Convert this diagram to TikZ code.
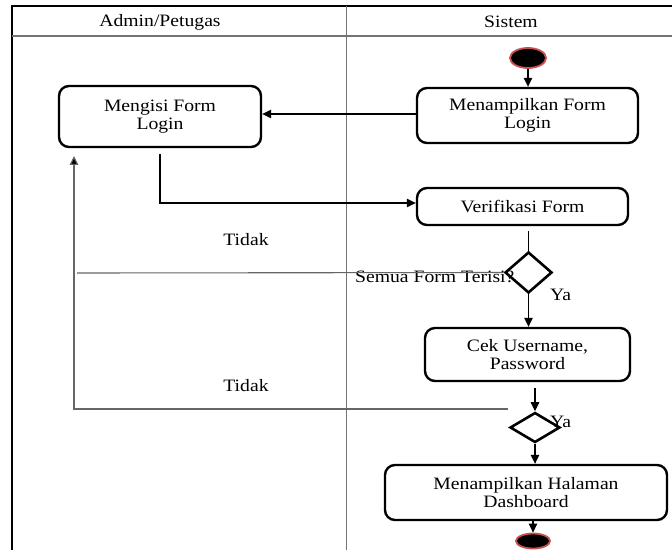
\documentclass[tikz,border=0pt]{standalone}
\usepackage{fontspec}
\setmainfont{Liberation Serif}[FakeStretch=1.13]
\usetikzlibrary{arrows.meta,shapes.geometric,calc}
\definecolor{termred}{RGB}{200,80,80}
\begin{document}
\begin{tikzpicture}[x=1bp,y=-1bp,
  every node/.style={font=\fontsize{17.4bp}{18.5bp}\selectfont},
  act/.style={draw,line width=2.4bp,rounded corners=10bp,align=center,inner sep=0pt},
  dec/.style={draw,diamond,line width=2.6bp,inner sep=0pt},
  term/.style={ellipse,fill=black,draw=termred,line width=1.8bp,inner sep=0pt},
  arr/.style={line width=1.1bp,-{Triangle[length=9bp,width=8.5bp]}},
  ln/.style={line width=1.1bp},
  gln/.style={line width=1.1bp,draw=black!60},
  garr/.style={gln,-{Triangle[length=9bp,width=8.5bp,fill=black]}},
  lbl/.style={inner sep=0pt}]
\useasboundingbox (0,0) rectangle (672,550);
\fill[white] (0,0) rectangle (672,550);
% frame
\draw[line width=2.6bp] (12,550) -- (12,6) -- (672,6);
\draw[line width=1.5bp,black!55] (12,36) -- (672,36);
\draw[line width=1bp,black!55] (346,6) -- (346,550);
\node[lbl] (h1) at (160,22) {Admin/Petugas};
\node[lbl] (h2) at (511,22) {Sistem};
% nodes
\node[term,minimum width=36bp,minimum height=20bp] (start) at (528,58) {};
\node[act,minimum width=221bp,minimum height=55bp] (tampil) at (527.5,115.5) {Menampilkan Form\\Login};
\node[act,minimum width=202bp,minimum height=61bp] (mengisi) at (160,116.5) {Mengisi Form\\Login};
\node[act,minimum width=211bp,minimum height=37bp] (verif) at (522.5,206.5) {Verifikasi Form};
\node[dec,minimum width=47bp,minimum height=41bp] (d1) at (528.5,272.5) {};
\node[act,minimum width=205bp,minimum height=53bp] (cek) at (527.5,354.5) {Cek Username,\\Password};
\node[dec,minimum width=50bp,minimum height=30bp] (d2) at (535,427.5) {};
\node[act,minimum width=282bp,minimum height=55bp] (dash) at (526,492.5) {Menampilkan Halaman\\Dashboard};
\node[term,minimum width=34bp,minimum height=15bp] (end) at (533,541) {};
% labels
\node[lbl,anchor=base west] (q1) at (355,282) {Semua Form Terisi?};
\node[lbl] (tidak1) at (246,240) {Tidak};
\node[lbl] (tidak2) at (246,386) {Tidak};
\node[lbl,anchor=west] (ya1) at (550,295) {Ya};
\node[lbl,anchor=west] (ya2) at (550,422) {Ya};
% coordinates
\coordinate (t1) at (77,273);
\coordinate (t2s) at (508,409);
\coordinate (t2c) at (74,409);
\coordinate (t2e) at (74,156);
% connectors
\draw[arr] (start.south) -- (start.south |- tampil.north);
\draw[arr] (tampil.west |- 0,114) -- (mengisi.east |- 0,114);
\draw[arr] ([yshift=-6bp]mengisi.south) -- (mengisi.south |- 0,203) -- (verif.west |- 0,203);
\draw[ln] ([yshift=-5bp]d1.north |- verif.south) -- (d1.north);
\draw[gln] (d1.west) -- (t1);
\draw[arr] (d1.south) -- (d1.south |- cek.north);
\draw[arr] ([yshift=-6bp]d2.north |- cek.south) -- (d2.north);
\draw[garr] (t2s) -- (t2c) -- (t2e);
\draw[arr] (d2.south) -- (d2.south |- dash.north);
\draw[arr] (end.north |- dash.south) -- (end.north);
\end{tikzpicture}
\end{document}
